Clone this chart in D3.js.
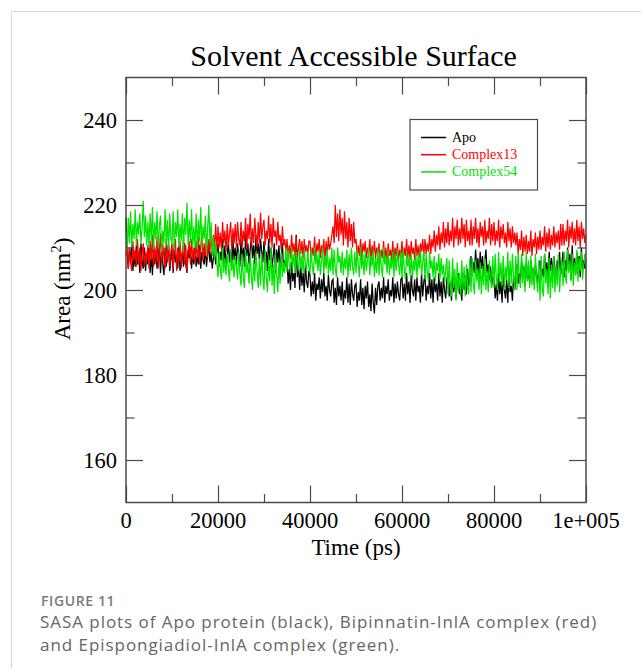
<!DOCTYPE html>
<html>
<head>
<meta charset="utf-8">
<script src="https://cdn.jsdelivr.net/npm/d3@7"></script>
<style>
  body { margin: 0; background: #fff; }
  svg { display: block; }
</style>
</head>
<body>
<div id="chart"></div>
<script>

// Series names and colours as in the legend
var seriesNames = ["Apo", "Complex13", "Complex54"];
var seriesColors = ["#000000", "#ff0000", "#00e400"];

// Values (nm^2), evenly spaced over 0 .. 100000 ps
var timeEnd = 100000;

var apo = [
    217, 209, 205, 210, 206.5, 211, 204.5, 208, 205.5, 210.5, 206, 209, 204, 211, 207, 205, 210, 204.5, 208.5, 206,
    210, 204, 208.5, 203.5, 211, 206, 209, 205, 207.5, 210.5, 204, 209.5, 206, 203.5, 210, 205.5, 208, 211, 204.5, 207,
    209.5, 204, 211, 206.5, 208, 205, 210.5, 204.5, 207, 209, 205.5, 211, 206, 204, 209.5, 207.5, 210, 205, 208.5, 206,
    210, 205.5, 208, 206, 210.5, 205, 209, 207, 206, 210, 205.5, 208.5, 210.5, 206.5, 209, 205, 207.5, 210, 206, 209,
    211, 205.5, 209, 207, 212, 206, 210.5, 205, 208, 211.5, 206.5, 209.5, 205.5, 212, 207, 210, 206, 211, 208, 205.5,
    212, 207, 210, 205.5, 213, 208, 211, 206, 209.5, 212.5, 207.5, 210.5, 206, 213, 208.5, 211, 207, 212, 209, 206.5,
    211.5, 206, 209, 204.5, 212, 207, 210, 205, 208, 211, 204, 209.5, 206.5, 210.5, 205, 208, 211, 204.5, 207, 205.5,
    207, 201.5, 205, 200, 206.5, 202, 204, 200.5, 213, 203, 206, 200, 205.5, 201, 204, 199.5, 206, 202, 200.5, 204.5,
    203.5, 198.5, 202, 199, 204, 197.5, 201.5, 200, 203, 198, 202.5, 199.5, 204, 198.5, 201, 197.5, 203.5, 200, 198.5, 202,
    202.5, 197, 200.5, 196.5, 203, 198.5, 201, 197.5, 202, 196.5, 200, 198, 203, 197, 201.5, 196.5, 202.5, 199, 197.5, 201,
    201.5, 196, 199.5, 197.5, 202.5, 196.5, 200.5, 195.5, 201, 198, 202, 196, 199, 195, 201.5, 197, 194.5, 200.5, 196.5, 201,
    202, 197.5, 200.5, 198, 203, 197, 201, 199, 202.5, 197.5, 200, 198.5, 203, 197, 201.5, 198, 202, 199, 197.5, 202.5,
    203, 198, 201.5, 197.5, 204, 199, 202, 197, 203.5, 200, 198.5, 202.5, 197.5, 203, 199.5, 201, 197, 204, 198.5, 202,
    203.5, 197.5, 201, 199, 204, 198, 202.5, 197, 203, 199.5, 201.5, 197.5, 204, 198.5, 202, 197, 203, 200, 198, 202.5,
    204, 198.5, 202, 197.5, 204.5, 199.5, 203, 198, 201.5, 204, 199, 202.5, 197.5, 204, 200, 203.5, 199, 205, 201, 203,
    208, 203.5, 206.5, 204, 209.5, 204.5, 207.5, 203, 209, 205, 208, 203.5, 207, 209.5, 204, 206, 202.5, 205.5, 201, 203,
    203, 198, 201.5, 197.5, 204, 199, 202, 197, 203.5, 200, 198, 202.5, 197, 204, 199.5, 201, 197.5, 203.5, 200, 202.5,
    206, 201.5, 204, 202, 207, 203, 205.5, 201, 206.5, 202.5, 204.5, 201.5, 207, 203, 205, 201.5, 206, 203.5, 202, 205.5,
    207, 202.5, 205, 203, 208.5, 204, 206.5, 202, 209, 204.5, 207.5, 203, 208, 205, 202.5, 207, 204, 209, 203.5, 206,
    209, 203, 207, 204.5, 210, 205, 208.5, 202.5, 210.5, 204, 207.5, 203.5, 209, 205.5, 208, 203, 210, 204.5, 207, 205,
    207
];

var complex13 = [
    208, 211, 205, 210, 206.5, 204.5, 211.5, 207, 209.5, 205.5, 212, 206, 210, 204.5, 208.5, 211, 205.5, 209, 206.5, 210.5,
    205, 211.5, 207, 213, 205.5, 210, 206.5, 212.5, 205, 209, 213.3, 206, 211, 207.5, 205, 212, 206.5, 210.5, 205.5, 209,
    211, 205, 209.5, 212, 204.5, 210, 206.5, 211.5, 205, 208, 212, 206, 210.5, 204.5, 209, 211.5, 206, 212, 207, 210,
    206.5, 211.5, 207.5, 212.5, 206, 210, 213.5, 207, 211, 208, 213, 207.5, 212, 209, 214, 208.5, 213, 210, 215.5, 209,
    215, 210, 213.5, 209.5, 216, 211, 214, 209, 215.5, 210.5, 213, 216, 209.5, 214.5, 211, 215.5, 210, 216, 212, 210.5,
    216, 210, 214, 211.5, 217, 209.5, 215.5, 212, 218, 210.5, 214.5, 211, 217, 212.5, 210, 216, 211, 218.2, 212, 215,
    216.5, 210.5, 214, 212, 217.5, 211, 215.5, 210, 217, 212.5, 214, 210.5, 216, 211.5, 213, 209.5, 215, 210.5, 212, 209,
    212, 208, 210.5, 207.5, 213, 209, 211, 208, 212.5, 207.5, 210, 212, 208.5, 211.5, 207.5, 212, 209, 210.5, 208, 211.5,
    211.5, 207.5, 210, 208, 212.5, 207, 211, 209, 212, 207.5, 210.5, 208.5, 212, 207, 211.5, 208, 212.5, 209.5, 211, 213,
    215, 211, 220, 212.5, 218, 211.5, 219, 213, 217, 210.5, 218.5, 212, 216, 210, 217, 211.5, 215.5, 210, 216, 211,
    212, 207.5, 210.5, 208, 212, 207, 211, 209, 211.5, 207.5, 210, 208.5, 212, 207, 210.5, 208, 211.5, 207.5, 210, 208.5,
    211, 206.5, 209.5, 207.5, 211.5, 207, 210, 206.5, 211, 208, 209.5, 207, 211.5, 206.5, 210, 208, 211, 207, 209.5, 207.5,
    211.5, 207, 210, 208, 212, 207.5, 210.5, 207, 211.5, 208.5, 210, 207, 212, 208, 210.5, 207.5, 211, 209, 212, 208,
    212, 208.5, 211, 209, 213, 208.5, 212, 210, 214, 209, 213, 210.5, 215, 209.5, 213.5, 211, 216, 210, 214.5, 211,
    216, 210.5, 214, 211.5, 217, 210, 215, 212, 216.5, 210.5, 214.5, 211, 217, 212, 215.5, 210, 216.5, 211.5, 214, 210.5,
    216.5, 210.5, 215, 212, 217, 211, 214.5, 210, 216, 212.5, 215, 210.5, 216.5, 211, 214, 212, 217, 210.5, 215.5, 211.5,
    216, 210.5, 214, 211.5, 216.5, 210, 215, 212, 215.5, 211, 213.5, 210, 216, 211.5, 214.5, 210, 215, 211, 213.5, 210.5,
    213.5, 208.5, 212, 209.5, 214, 208, 212.5, 209, 213, 208.5, 211.5, 209, 214, 208, 212, 210, 213.5, 208.5, 212.5, 209.5,
    214, 209.5, 212.5, 210.5, 215, 209, 213.5, 210, 214.5, 209.5, 213, 210.5, 215, 210, 213.5, 211, 214, 209.5, 215.5, 210.5,
    215.5, 210.5, 214, 211.5, 216.5, 210, 215, 212, 216, 211, 214.5, 210.5, 216.5, 211.5, 215, 210, 216, 212, 214.5, 211,
    213
];

var complex54 = [
    214, 209.5, 217, 211, 218.5, 210, 215.5, 212, 219, 210.5, 216, 213, 218, 211, 214.5, 221, 212.5, 217.5, 210.5, 216,
    210, 218, 211.5, 219.5, 209.5, 216, 212, 218.5, 210, 215, 217.5, 209, 214, 211, 219, 210.5, 216.5, 209.5, 218, 212,
    211, 218.5, 209.5, 216, 212.5, 219, 210, 215.5, 211.5, 218, 209, 217, 213, 220.5, 210.5, 216.5, 211, 219, 210, 215,
    210, 218, 209.5, 216.5, 211.5, 219.5, 210, 215, 212, 217.5, 209, 214.5, 220, 211, 216, 208, 212.5, 207, 211, 206.5,
    203, 209, 205, 202.5, 210, 204, 207.5, 203.5, 208.5, 205, 202, 209.5, 204.5, 207, 203, 208, 205.5, 202.5, 209, 204,
    201, 208.5, 203, 200.5, 209.5, 204, 206.5, 201.5, 208, 203.5, 200, 207, 202, 209, 204.5, 200.5, 207.5, 201, 208.5, 203,
    200, 209.5, 203, 199.5, 207, 202, 210, 201, 206, 199, 208.5, 203.5, 199.5, 207, 201.5, 209, 203, 206.5, 204, 210,
    204.5, 209.5, 206, 204, 210, 205.5, 208.5, 204, 209, 206.5, 204.5, 210, 205, 208, 204, 209.5, 206, 204.5, 209, 205.5,
    204, 209.5, 205.5, 203.5, 210, 206, 208.5, 204.5, 209, 203.5, 207, 210, 204, 208, 205, 209.5, 203.5, 207.5, 204.5, 210,
    203.5, 209.5, 205, 203, 210, 206.5, 208, 204, 209, 203.5, 207.5, 205, 209.5, 203, 208.5, 204.5, 210, 205.5, 203.5, 209,
    204, 209.5, 206, 203, 210, 205, 208.5, 203.5, 209, 204.5, 207, 210, 203.5, 208, 205.5, 209.5, 203, 207.5, 204, 210,
    203.5, 209, 205.5, 203, 210, 206, 208, 204, 209.5, 203.5, 207.5, 205, 209, 203, 208.5, 204.5, 209.5, 206, 203.5, 209,
    203, 209.5, 204.5, 202.5, 209, 205.5, 207.5, 203.5, 208.5, 202.5, 207, 204.5, 209, 203, 208, 205, 209.5, 203.5, 206.5, 209,
    202.5, 208.5, 204, 202, 209, 205, 207, 203, 208, 202, 206.5, 204.5, 208.5, 202.5, 207.5, 203.5, 206, 201.5, 205, 207.5,
    199, 207, 201, 198.5, 207.5, 200.5, 205, 197.5, 206.5, 199.5, 204, 198.5, 207, 200, 205.5, 198.5, 206, 201, 199, 207.5,
    199.5, 207.5, 201.5, 199, 207, 202, 205, 200, 206.5, 199, 205.5, 201, 207.5, 200, 204.5, 199.5, 207, 202, 200.5, 208,
    200.5, 208.5, 203, 200, 209, 202, 206.5, 201, 208, 200, 205.5, 202.5, 209, 200.5, 207, 201.5, 208.5, 203, 200, 208,
    200, 209, 202.5, 200.5, 208.5, 201.5, 206, 199.5, 209, 202, 207, 200.5, 208, 201, 205.5, 200, 208.5, 202.5, 199.5, 207,
    197.5, 208, 200, 198.5, 208.5, 201.5, 205, 199, 207.5, 198, 206, 200.5, 208, 199.5, 205.5, 201, 208.5, 199.5, 204.5, 207,
    201, 209, 203.5, 201.5, 209.5, 204, 207, 202, 208.5, 201, 206.5, 203.5, 209.5, 202, 207.5, 204.5, 209, 202.5, 206, 208.5,
    205
];

var xMajorTicks = [0, 20000, 40000, 60000, 80000, 100000];
var xTickLabels = ["0", "20000", "40000", "60000", "80000", "1e+005"];
var xMinorTicks = [10000, 30000, 50000, 70000, 90000];
var yMajorTicks = [160, 180, 200, 220, 240];
var yMinorTicks = [170, 190, 210, 230];

var W = 641, H = 668;
var plot = { left: 126, right: 586, top: 77.5, bottom: 502.5 };

var svg = d3.select('#chart').append('svg')
    .attr('width', W)
    .attr('height', H);

svg.append('rect').attr('width', W).attr('height', H).attr('fill', '#fff');

// light page frame
svg.append('path')
    .attr('d', 'M11.5,' + H + 'V11.5H' + W)
    .attr('fill', 'none')
    .attr('stroke', '#d9d9d9')
    .attr('stroke-width', 1);

var x = d3.scaleLinear().domain([0, timeEnd]).range([plot.left, plot.right]);
var y = d3.scaleLinear().domain([150, 250]).range([plot.bottom, plot.top]);

var serif = '"Liberation Serif", "Times New Roman", serif';

// data lines: black, red, then green on top
var seriesData = [apo, complex13, complex54];

svg.append('g').attr('class', 'series')
    .selectAll('path')
    .data(seriesData)
    .enter().append('path')
        .attr('d', function(vals) {
            var step = timeEnd / (vals.length - 1);
            return d3.line()
                .x(function(d, i) { return x(i * step); })
                .y(function(d) { return y(d); })(vals);
        })
        .attr('fill', 'none')
        .attr('stroke', function(d, i) { return seriesColors[i]; })
        .attr('stroke-width', 1.25);

// ticks, all pointing inward, mirrored on all sides
var frameColor = '#4a4a4a';
var majorLen = 17, minorLen = 8.5;

function addTicks(g, axisGen, size) {
    g.call(axisGen.tickSize(size).tickFormat(''));
    g.select('.domain').remove();
    g.selectAll('.tick line').attr('stroke', frameColor).attr('stroke-width', 1.2);
}

var ax = svg.append('g').attr('class', 'ticks');
addTicks(ax.append('g').attr('transform', 'translate(0,' + plot.bottom + ')'),
    d3.axisTop(x).tickValues(xMajorTicks), majorLen);
addTicks(ax.append('g').attr('transform', 'translate(0,' + plot.bottom + ')'),
    d3.axisTop(x).tickValues(xMinorTicks), minorLen);
addTicks(ax.append('g').attr('transform', 'translate(0,' + plot.top + ')'),
    d3.axisBottom(x).tickValues(xMajorTicks), majorLen);
addTicks(ax.append('g').attr('transform', 'translate(0,' + plot.top + ')'),
    d3.axisBottom(x).tickValues(xMinorTicks), minorLen);
addTicks(ax.append('g').attr('transform', 'translate(' + plot.left + ',0)'),
    d3.axisRight(y).tickValues(yMajorTicks), majorLen);
addTicks(ax.append('g').attr('transform', 'translate(' + plot.left + ',0)'),
    d3.axisRight(y).tickValues(yMinorTicks), minorLen);
addTicks(ax.append('g').attr('transform', 'translate(' + plot.right + ',0)'),
    d3.axisLeft(y).tickValues(yMajorTicks), majorLen);
addTicks(ax.append('g').attr('transform', 'translate(' + plot.right + ',0)'),
    d3.axisLeft(y).tickValues(yMinorTicks), minorLen);

svg.append('rect')
    .attr('x', plot.left)
    .attr('y', plot.top)
    .attr('width', plot.right - plot.left)
    .attr('height', plot.bottom - plot.top)
    .attr('fill', 'none')
    .attr('stroke', frameColor)
    .attr('stroke-width', 1.5);

// tick labels
svg.append('g').selectAll('text')
    .data(xMajorTicks)
    .enter().append('text')
        .attr('x', function(d) { return x(d); })
        .attr('y', 528)
        .attr('text-anchor', 'middle')
        .style('font-family', serif)
        .style('font-size', '22.5px')
        .text(function(d, i) { return xTickLabels[i]; });

svg.append('g').selectAll('text')
    .data(yMajorTicks)
    .enter().append('text')
        .attr('x', 117)
        .attr('y', function(d) { return y(d); })
        .attr('dy', '0.34em')
        .attr('text-anchor', 'end')
        .style('font-family', serif)
        .style('font-size', '22.5px')
        .text(function(d) { return d; });

// titles
svg.append('text')
    .attr('x', 353.5)
    .attr('y', 65.5)
    .attr('text-anchor', 'middle')
    .style('font-family', serif)
    .style('font-size', '30px')
    .text('Solvent Accessible Surface');

svg.append('text')
    .attr('x', 356)
    .attr('y', 555)
    .attr('text-anchor', 'middle')
    .style('font-family', serif)
    .style('font-size', '23px')
    .text('Time (ps)');

var yl = svg.append('text')
    .attr('transform', 'translate(70,289) rotate(-90)')
    .attr('text-anchor', 'middle')
    .style('font-family', serif)
    .style('font-size', '23px');
yl.append('tspan').text('Area (nm');
yl.append('tspan').attr('dy', -9).style('font-size', '15px').text('2');
yl.append('tspan').attr('dy', 9).text(')');

// legend
var legend = svg.append('g').attr('class', 'legend');
legend.append('rect')
    .attr('x', 410)
    .attr('y', 119.5)
    .attr('width', 127.5)
    .attr('height', 70.5)
    .attr('fill', '#fff')
    .attr('stroke', frameColor)
    .attr('stroke-width', 1.2);

var items = legend.selectAll('g.item')
    .data(seriesNames)
    .enter().append('g')
        .attr('class', 'item')
        .attr('transform', function(d, i) {
            return 'translate(421,' + (137.5 + i * 17.2) + ')';
        });

items.append('line')
    .attr('x1', 0).attr('x2', 25)
    .attr('stroke', function(d, i) { return seriesColors[i]; })
    .attr('stroke-width', 1.5);

items.append('text')
    .attr('x', 31)
    .attr('dy', '0.32em')
    .style('font-family', serif)
    .style('font-size', '14px')
    .style('fill', function(d, i) { return seriesColors[i]; })
    .text(function(d) { return d; });

// figure caption
var sans = '"Open Sans", "Noto Sans", sans-serif';
svg.append('text')
    .attr('x', 41)
    .attr('y', 606)
    .style('font-family', sans)
    .style('font-size', '14px')
    .style('font-weight', 600)
    .style('letter-spacing', '0.6px')
    .style('fill', '#7a7a7a')
    .text('FIGURE 11');

var captionLines = [
    'SASA plots of Apo protein (black), Bipinnatin-InlA complex (red)',
    'and Epispongiadiol-InlA complex (green).'
];
svg.append('g').selectAll('text')
    .data(captionLines)
    .enter().append('text')
        .attr('x', 40)
        .attr('y', function(d, i) { return 628 + i * 23; })
        .style('font-family', sans)
        .style('font-size', '17px')
        .style('letter-spacing', '0.95px')
        .style('fill', '#666')
        .text(function(d) { return d; });

</script>
</body>
</html>
